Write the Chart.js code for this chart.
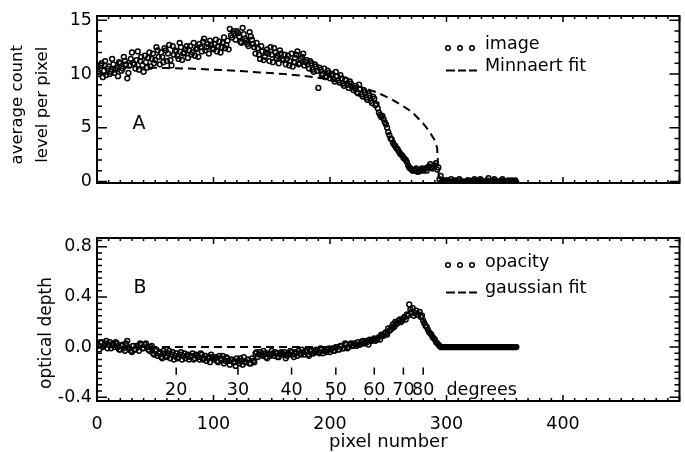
<!DOCTYPE html>
<html>
<head>
<meta charset="utf-8">
<script src="https://cdn.jsdelivr.net/npm/chart.js@4.4.1/dist/chart.umd.min.js"></script>
<style>
  html, body { margin: 0; padding: 0; background: #fff; overflow: hidden; }
  #wrap { position: relative; width: 685px; height: 452px; }
  .panel { position: absolute; left: 0; }
  #topPanel { top: 0; }
  #botPanel { top: 200px; }
</style>
</head>
<body>
<div id="wrap">
  <div class="panel" id="topPanel"><canvas id="imageChart" width="685" height="200"></canvas></div>
  <div class="panel" id="botPanel"><canvas id="opacityChart" width="685" height="262"></canvas></div>
</div>
<script>
// pixel numbers along the scan, even and odd samples (shared by both panels)
const pixelEven = [
  0, 2, 4, 6, 8, 10, 12, 14, 16, 18,
  20, 22, 24, 26, 28, 30, 32, 34, 36, 38,
  40, 42, 44, 46, 48, 50, 52, 54, 56, 58,
  60, 62, 64, 66, 68, 70, 72, 74, 76, 78,
  80, 82, 84, 86, 88, 90, 92, 94, 96, 98,
  100, 102, 104, 106, 108, 110, 112, 114, 116, 118,
  120, 122, 124, 126, 128, 130, 132, 134, 136, 138,
  140, 142, 144, 146, 148, 150, 152, 154, 156, 158,
  160, 162, 164, 166, 168, 170, 172, 174, 176, 178,
  180, 182, 184, 186, 188, 190, 192, 194, 196, 198,
  200, 202, 204, 206, 208, 210, 212, 214, 216, 218,
  220, 222, 224, 226, 228, 230, 232, 234, 236, 238,
  240, 242, 244, 246, 248, 250, 252, 254, 256, 258,
  260, 262, 264, 266, 268, 270, 272, 274, 276, 278,
  280, 282, 284, 286, 288, 290, 292, 294, 296, 298,
  300, 302, 304, 306, 308, 310, 312, 314, 316, 318,
  320, 322, 324, 326, 328, 330, 332, 334, 336, 338,
  340, 342, 344, 346, 348, 350, 352, 354, 356, 358,
  360
];
const pixelOdd = [
  1, 3, 5, 7, 9, 11, 13, 15, 17, 19,
  21, 23, 25, 27, 29, 31, 33, 35, 37, 39,
  41, 43, 45, 47, 49, 51, 53, 55, 57, 59,
  61, 63, 65, 67, 69, 71, 73, 75, 77, 79,
  81, 83, 85, 87, 89, 91, 93, 95, 97, 99,
  101, 103, 105, 107, 109, 111, 113, 115, 117, 119,
  121, 123, 125, 127, 129, 131, 133, 135, 137, 139,
  141, 143, 145, 147, 149, 151, 153, 155, 157, 159,
  161, 163, 165, 167, 169, 171, 173, 175, 177, 179,
  181, 183, 185, 187, 189, 191, 193, 195, 197, 199,
  201, 203, 205, 207, 209, 211, 213, 215, 217, 219,
  221, 223, 225, 227, 229, 231, 233, 235, 237, 239,
  241, 243, 245, 247, 249, 251, 253, 255, 257, 259,
  261, 263, 265, 267, 269, 271, 273, 275, 277, 279,
  281, 283, 285, 287, 289, 291, 293, 295, 297, 299,
  301, 303, 305, 307, 309, 311, 313, 315, 317, 319,
  321, 323, 325, 327, 329, 331, 333, 335, 337, 339,
  341, 343, 345, 347, 349, 351, 353, 355, 357, 359
];

// panel A: image, average count level per pixel
const imageEven = [
  10.6, 10.0, 11.0, 10.3, 9.9, 10.7, 10.2, 10.9, 10.4, 9.8,
  11.0, 10.5, 11.2, 9.6, 10.8, 12.0, 10.9, 11.3, 10.4, 11.6,
  10.2, 11.1, 11.5, 10.7, 11.9, 11.3, 12.2, 10.9, 11.6, 12.4,
  11.2, 12.7, 10.8, 11.8, 12.1, 11.4, 12.5, 11.9, 12.3, 11.5,
  12.6, 12.0, 11.7, 12.4, 12.8, 12.1, 13.3, 12.5, 11.9, 12.7,
  12.3, 13.2, 12.6, 12.0, 12.9, 12.4, 13.1, 14.2, 13.4, 13.8,
  14.0, 13.5, 12.9, 13.7, 13.1, 12.6, 13.5, 12.8, 11.9, 12.4,
  11.4, 12.1, 11.6, 12.3, 11.2, 11.8, 12.4, 11.5, 11.0, 11.9,
  11.3, 10.9, 11.7, 11.2, 10.7, 11.5, 12.1, 11.0, 11.6, 10.8,
  11.3, 10.5, 11.0, 10.2, 10.7, 8.7, 10.4, 10.0, 9.7, 10.3,
  9.6, 10.0, 9.3, 9.8, 9.2, 9.6, 8.9, 9.4, 8.7, 9.1,
  8.5, 8.9, 8.2, 8.6, 7.9, 8.3, 7.6, 8.0, 7.3, 7.7,
  7.2, 6.4, 6.0, 5.8, 5.3, 4.6, 4.0, 3.6, 3.3, 3.0,
  2.6, 2.4, 2.1, 1.8, 1.3, 1.1, 1.0, 1.2, 0.9, 1.1,
  1.0, 1.2, 1.3, 1.6, 1.2, 1.5, 1.1, 0.2, 0.0, 0.1,
  -0.1, 0.0, 0.2, -0.2, 0.0, 0.1, -0.1, 0.0, -0.2, 0.1,
  0.0, -0.1, 0.2, 0.0, -0.2, 0.1, -0.1, 0.0, 0.3, -0.1,
  0.0, 0.1, -0.2, 0.0, 0.2, -0.1, 0.0, -0.2, 0.1, 0.0,
  -0.1
];
const imageOdd = [
  10.2, 10.8, 9.7, 11.2, 10.5, 10.0, 11.4, 10.1, 10.6, 11.1,
  10.3, 11.6, 10.9, 10.1, 11.4, 11.0, 10.5, 12.1, 11.2, 10.8,
  11.7, 10.6, 12.0, 11.4, 11.0, 12.5, 11.6, 12.0, 11.1, 12.2,
  11.9, 11.3, 12.6, 12.2, 11.7, 12.9, 11.3, 12.0, 12.6, 12.2,
  11.8, 12.9, 12.3, 11.6, 12.5, 13.0, 12.2, 12.8, 13.1, 12.4,
  12.8, 12.1, 13.0, 12.5, 13.4, 12.7, 12.3, 13.6, 14.0, 13.2,
  13.8, 13.0, 14.3, 13.3, 12.8, 13.9, 13.2, 12.5, 12.9, 11.8,
  12.6, 11.3, 12.0, 11.9, 12.5, 11.1, 12.0, 11.7, 12.2, 11.4,
  11.8, 11.4, 10.8, 11.9, 11.1, 11.8, 10.9, 11.4, 11.9, 11.1,
  10.9, 11.2, 10.4, 10.9, 10.3, 10.6, 9.9, 10.5, 9.8, 10.1,
  9.9, 9.5, 10.2, 9.4, 9.9, 9.1, 9.5, 9.0, 9.3, 8.8,
  8.7, 8.3, 9.0, 8.1, 8.5, 7.8, 8.2, 7.5, 7.9, 7.1,
  6.8, 6.2, 6.1, 5.5, 5.0, 4.3, 3.9, 3.4, 3.1, 2.8,
  2.5, 2.2, 2.0, 1.5, 1.2, 1.0, 1.1, 0.9, 1.0, 1.2,
  1.1, 1.0, 1.4, 1.3, 1.4, 1.7, 1.3, 0.5, 0.1, -0.1,
  0.1, -0.2, 0.0, 0.1, -0.1, 0.2, 0.0, -0.1, 0.0, 0.1,
  -0.2, 0.1, 0.0, -0.1, 0.2, 0.0, -0.2, 0.1, 0.0, -0.1,
  0.2, 0.0, -0.1, 0.1, 0.0, -0.2, 0.1, -0.1, 0.0, 0.1
];

const minnaertPixel = [0, 20, 40, 60, 80, 100, 120, 140, 160, 180, 200, 220, 240, 250, 260, 270, 280, 285, 290, 292, 293, 294, 360];
const minnaertCount = [10.6, 10.6, 10.6, 10.55, 10.5, 10.4, 10.3, 10.15, 10.0, 9.8, 9.5, 9.0, 8.3, 7.8, 7.2, 6.5, 5.4, 4.7, 3.8, 3.1, 1.0, 0.0, 0.0];

// panel B: opacity, optical depth
const depthEven = [
  0.03, -0.02, 0.04, 0.01, 0.05, 0.02, -0.01, 0.03, 0.04, 0.00,
  -0.02, 0.02, -0.03, 0.05, -0.01, -0.04, -0.02, 0.01, -0.03, 0.02,
  -0.01, 0.03, -0.02, 0.00, -0.05, -0.03, -0.07, -0.04, -0.09, -0.05,
  -0.08, -0.03, -0.06, -0.10, -0.05, -0.08, -0.04, -0.07, -0.09, -0.06,
  -0.08, -0.05, -0.09, -0.07, -0.10, -0.06, -0.09, -0.11, -0.08, -0.06,
  -0.10, -0.08, -0.12, -0.09, -0.07, -0.11, -0.09, -0.14, -0.10, -0.12,
  -0.09, -0.13, -0.11, -0.08, -0.12, -0.10, -0.13, -0.11, -0.05, -0.08,
  -0.04, -0.07, -0.05, -0.09, -0.06, -0.03, -0.07, -0.05, -0.08, -0.04,
  -0.06, -0.09, -0.05, -0.03, -0.06, -0.04, -0.07, -0.05, -0.02, -0.06,
  -0.04, -0.07, -0.03, -0.05, -0.02, -0.04, -0.01, -0.05, -0.03, -0.02,
  -0.04, -0.01, -0.03, 0.00, -0.02, 0.01, -0.01, 0.02, 0.00, 0.03,
  0.01, 0.02, 0.04, 0.02, 0.05, 0.03, 0.04, 0.06, 0.05, 0.07,
  0.06, 0.08, 0.10, 0.09, 0.12, 0.15, 0.14, 0.18, 0.20, 0.19,
  0.22, 0.21, 0.24, 0.26, 0.34, 0.28, 0.25, 0.29, 0.26, 0.24,
  0.21, 0.17, 0.14, 0.11, 0.08, 0.06, 0.03, 0.01, 0.00, 0.00,
  0, 0, 0, 0, 0, 0, 0, 0, 0, 0,
  0, 0, 0, 0, 0, 0, 0, 0, 0, 0,
  0, 0, 0, 0, 0, 0, 0, 0, 0, 0,
  0
];
const depthOdd = [
  0.01, 0.04, 0.00, 0.03, -0.01, 0.04, 0.02, 0.00, 0.03, -0.02,
  0.01, -0.01, 0.03, 0.00, -0.03, 0.01, -0.02, 0.00, 0.03, -0.01,
  0.02, 0.00, -0.03, 0.01, -0.06, -0.02, -0.05, -0.08, -0.03, -0.07,
  -0.05, -0.09, -0.04, -0.07, -0.09, -0.06, -0.10, -0.05, -0.07, -0.10,
  -0.07, -0.10, -0.06, -0.08, -0.05, -0.10, -0.07, -0.09, -0.12, -0.08,
  -0.09, -0.11, -0.07, -0.10, -0.13, -0.08, -0.11, -0.10, -0.12, -0.15,
  -0.11, -0.09, -0.14, -0.12, -0.10, -0.13, -0.09, -0.12, -0.04, -0.06,
  -0.06, -0.03, -0.08, -0.05, -0.07, -0.05, -0.04, -0.08, -0.06, -0.05,
  -0.04, -0.07, -0.06, -0.04, -0.08, -0.05, -0.03, -0.06, -0.04, -0.03,
  -0.06, -0.03, -0.05, -0.04, -0.03, -0.05, -0.02, -0.03, -0.04, -0.01,
  -0.02, -0.03, 0.00, -0.02, 0.01, -0.01, 0.03, -0.01, 0.02, 0.01,
  0.03, 0.01, 0.02, 0.04, 0.03, 0.05, 0.02, 0.05, 0.06, 0.05,
  0.07, 0.06, 0.09, 0.11, 0.10, 0.13, 0.16, 0.16, 0.19, 0.21,
  0.20, 0.23, 0.22, 0.25, 0.30, 0.31, 0.27, 0.26, 0.28, 0.25,
  0.19, 0.16, 0.12, 0.10, 0.07, 0.04, 0.02, 0.00, 0.00, 0.00,
  0, 0, 0, 0, 0, 0, 0, 0, 0, 0,
  0, 0, 0, 0, 0, 0, 0, 0, 0, 0,
  0, 0, 0, 0, 0, 0, 0, 0, 0, 0
];

const gaussPixel = [0, 50, 100, 150, 200, 220, 230, 240, 250, 255, 260, 265, 270, 275, 280, 285, 290, 295, 300, 360];
const gaussDepth = [0, 0, 0, 0, 0, 0.01, 0.02, 0.05, 0.10, 0.14, 0.19, 0.23, 0.26, 0.27, 0.22, 0.14, 0.06, 0.01, 0, 0];

// axis ticks
const xTickValues = [0, 100, 200, 300, 400];
const countTickValues = [0, 5, 10, 15];
const depthTickValues = [-0.4, 0.0, 0.4, 0.8];

// emission angle marks along panel B
const degreeLabels = ['20', '30', '40', '50', '60', '70', '80'];
const degreePixel = [68, 121, 167, 205, 238, 263, 280];

const FONT = "'DejaVu Sans', sans-serif";
Chart.defaults.font.family = FONT;
Chart.defaults.color = '#000';

const toPoints = (xs, ys) => xs.map((x, i) => ({ x: x, y: ys[i] }));

function tickValues(min, max, step) {
  const out = [];
  for (let k = Math.ceil(min / step - 1e-6); k <= Math.floor(max / step + 1e-6); k++) out.push(k * step);
  return out;
}
function isMultiple(v, m) {
  return Math.abs(v / m - Math.round(v / m)) < 1e-6;
}

// IDL style box with inward ticks on all four sides
const frameTicks = {
  id: 'frameTicks',
  afterDatasetsDraw(chart, args, o) {
    const { ctx, chartArea: a, scales: { x, y } } = chart;
    ctx.save();
    ctx.strokeStyle = '#000';
    ctx.lineWidth = 1.5;
    ctx.beginPath();
    tickValues(x.min, x.max, o.xMinor).forEach(v => {
      const px = x.getPixelForValue(v);
      const len = isMultiple(v, o.xMajor) ? o.xLen[0] : o.xLen[1];
      ctx.moveTo(px, a.bottom); ctx.lineTo(px, a.bottom - len);
      ctx.moveTo(px, a.top); ctx.lineTo(px, a.top + len);
    });
    tickValues(y.min, y.max, o.yMinor).forEach(v => {
      const py = y.getPixelForValue(v);
      const len = isMultiple(v, o.yMajor) ? o.yLen[0] : o.yLen[1];
      ctx.moveTo(a.left, py); ctx.lineTo(a.left + len, py);
      ctx.moveTo(a.right, py); ctx.lineTo(a.right - len, py);
    });
    ctx.stroke();
    ctx.lineWidth = 2;
    ctx.strokeRect(a.left, a.top, a.width, a.height);
    ctx.restore();
  }
};

// panel letter and the hand drawn legend
const notes = {
  id: 'notes',
  afterDatasetsDraw(chart, args, o) {
    const { ctx, chartArea: a, scales: { x, y } } = chart;
    ctx.save();
    ctx.fillStyle = '#000';
    ctx.strokeStyle = '#000';
    ctx.font = '19px ' + FONT;
    ctx.textAlign = 'center';
    ctx.textBaseline = 'middle';
    ctx.fillText(o.panel, x.getPixelForValue(o.panelAt[0]), y.getPixelForValue(o.panelAt[1]));

    ctx.font = '17.5px ' + FONT;
    ctx.textAlign = 'left';
    ctx.textBaseline = 'alphabetic';
    o.legend.forEach(item => {
      const top = a.top + item.dy;
      if (item.kind === 'dots') {
        ctx.lineWidth = 1.5;
        [351, 363, 375].forEach(dx => {
          ctx.beginPath();
          ctx.arc(a.left + dx, top, 2.3, 0, Math.PI * 2);
          ctx.stroke();
        });
      } else {
        ctx.lineWidth = 2;
        ctx.beginPath();
        [[349, 358], [361, 369], [372, 380]].forEach(s => {
          ctx.moveTo(a.left + s[0], top); ctx.lineTo(a.left + s[1], top);
        });
        ctx.stroke();
      }
      ctx.fillText(item.label, a.left + 388, top + item.base);
    });
    ctx.restore();
  }
};

// degree scale drawn inside panel B
const degreeMarks = {
  id: 'degreeMarks',
  afterDatasetsDraw(chart) {
    const { ctx, scales: { x, y } } = chart;
    ctx.save();
    ctx.strokeStyle = '#000';
    ctx.fillStyle = '#000';
    ctx.lineWidth = 1.5;
    ctx.font = '17.5px ' + FONT;
    ctx.textAlign = 'center';
    ctx.textBaseline = 'middle';
    const y0 = y.getPixelForValue(-0.163), y1 = y.getPixelForValue(-0.22), yl = y.getPixelForValue(-0.345);
    degreePixel.forEach((p, i) => {
      const px = x.getPixelForValue(p);
      ctx.beginPath();
      ctx.moveTo(px, y0); ctx.lineTo(px, y1);
      ctx.stroke();
      ctx.fillText(degreeLabels[i], px, yl);
    });
    ctx.textAlign = 'left';
    ctx.fillText('degrees', x.getPixelForValue(300), yl);
    ctx.restore();
  }
};

// open rings, no fill, so overlapping samples build up a dark band
const scatterStyle = {
  pointRadius: 2.4,
  pointBorderWidth: 1.5,
  pointBackgroundColor: 'rgba(0,0,0,0)',
  pointBorderColor: '#000',
  showLine: false,
  order: 1
};
const dashStyle = {
  showLine: true,
  pointRadius: 0,
  borderColor: '#000',
  borderWidth: 2,
  borderDash: [8, 5],
  order: 2
};

const yAxisBase = {
  grid: { display: false, drawTicks: false },
  border: { display: false },
  afterFit: s => { s.width = 97; }
};

// Panel A
new Chart(document.getElementById('imageChart'), {
  type: 'scatter',
  data: {
    datasets: [
      Object.assign({ label: 'image', data: toPoints(pixelEven, imageEven).concat(toPoints(pixelOdd, imageOdd)) }, scatterStyle),
      Object.assign({ label: 'Minnaert fit', data: toPoints(minnaertPixel, minnaertCount) }, dashStyle)
    ]
  },
  options: {
    responsive: false,
    animation: false,
    events: [],
    layout: { padding: { top: 16, right: 2, left: 0, bottom: 17 } },
    plugins: {
      legend: { display: false },
      tooltip: { enabled: false },
      frameTicks: { xMajor: 100, xMinor: 10, yMajor: 5, yMinor: 1, xLen: [6, 3], yLen: [10, 5] },
      notes: {
        panel: 'A', panelAt: [36, 5.3],
        legend: [
          { kind: 'dots', label: 'image', dy: 32, base: 1 },
          { kind: 'dash', label: 'Minnaert fit', dy: 54.5, base: 0.5 }
        ]
      }
    },
    scales: {
      x: { type: 'linear', min: 0, max: 500, display: false },
      y: Object.assign({
        min: -0.15,
        max: 15.4,
        afterBuildTicks: s => { s.ticks = countTickValues.map(v => ({ value: v })); },
        ticks: { padding: 5, font: { size: 17.5 }, callback: v => String(v) },
        title: {
          display: true,
          // trailing spaces nudge the rotated text a little down, as in the original
          text: ['average count  ', 'level per pixel  '],
          font: { size: 16.5, lineHeight: 1.515 },
          padding: { top: 5.5, bottom: 0 }
        }
      }, yAxisBase)
    }
  },
  plugins: [frameTicks, notes]
});

// Panel B
new Chart(document.getElementById('opacityChart'), {
  type: 'scatter',
  data: {
    datasets: [
      Object.assign({ label: 'opacity', data: toPoints(pixelEven, depthEven).concat(toPoints(pixelOdd, depthOdd)) }, scatterStyle),
      Object.assign({ label: 'gaussian fit', data: toPoints(gaussPixel, gaussDepth) }, dashStyle)
    ]
  },
  options: {
    responsive: false,
    animation: false,
    events: [],
    layout: { padding: { top: 38, right: 2, left: 0, bottom: 0 } },
    plugins: {
      legend: { display: false },
      tooltip: { enabled: false },
      frameTicks: { xMajor: 100, xMinor: 10, yMajor: 0.4, yMinor: 0.05, xLen: [6, 3], yLen: [10, 5] },
      notes: {
        panel: 'B', panelAt: [37, 0.47],
        legend: [
          { kind: 'dots', label: 'opacity', dy: 27, base: 2 },
          { kind: 'dash', label: 'gaussian fit', dy: 54.5, base: 0.5 }
        ]
      }
    },
    scales: {
      x: {
        type: 'linear',
        min: 0,
        max: 500,
        grid: { display: false, drawTicks: false },
        border: { display: false },
        afterBuildTicks: s => { s.ticks = xTickValues.map(v => ({ value: v })); },
        afterFit: s => { s.height = 61; },
        ticks: { padding: 12.5, maxRotation: 0, font: { size: 17.5 }, callback: v => String(v) },
        title: {
          display: true,
          text: 'pixel number',
          font: { size: 18 },
          padding: { top: 0, bottom: 9 }
        }
      },
      y: Object.assign({
        min: -0.43,
        max: 0.87,
        afterBuildTicks: s => { s.ticks = depthTickValues.map(v => ({ value: v })); },
        ticks: { padding: 5, font: { size: 17.5 }, callback: v => v.toFixed(1) },
        title: {
          display: true,
          text: 'optical depth     ',
          font: { size: 17 },
          padding: { top: 36, bottom: 0 }
        }
      }, yAxisBase)
    }
  },
  plugins: [frameTicks, notes, degreeMarks]
});
</script>
</body>
</html>
